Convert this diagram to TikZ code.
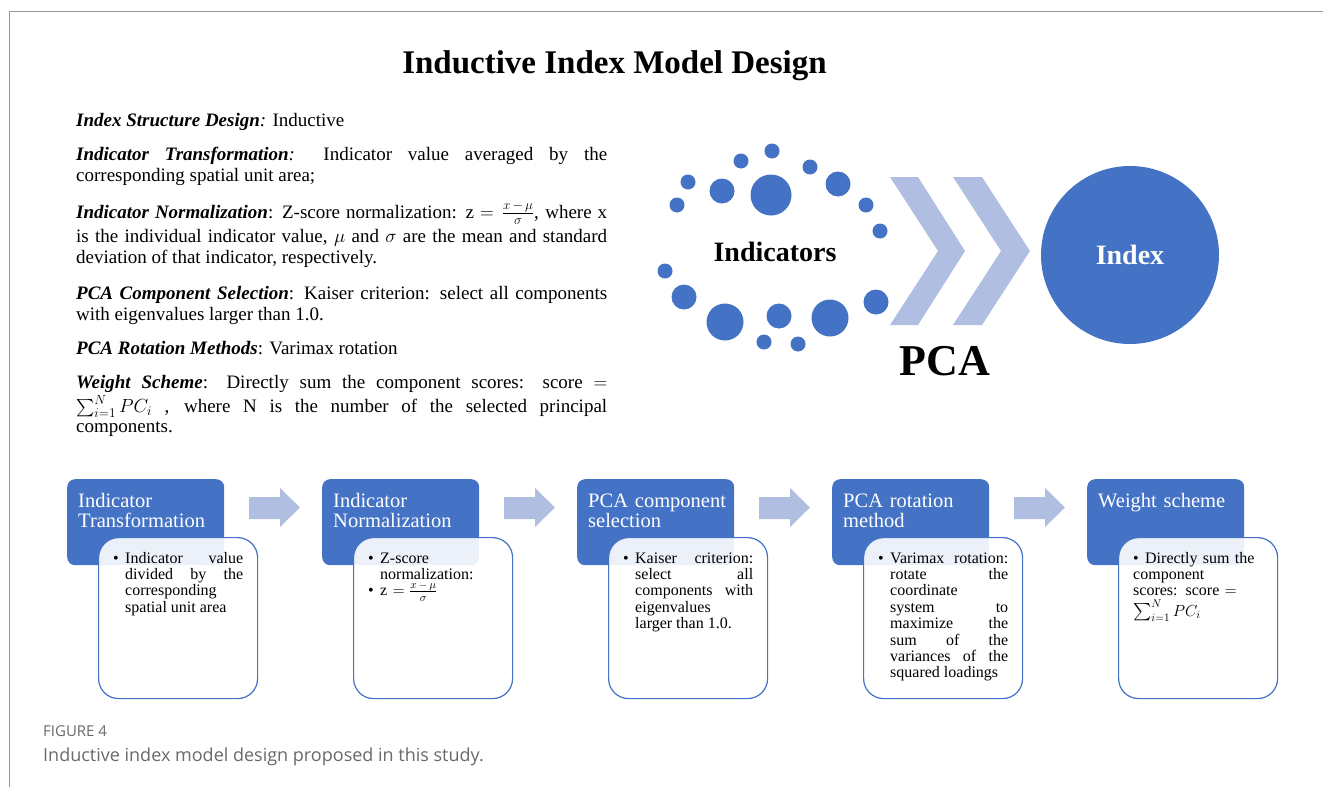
\RequirePackage{fix-cm}
\documentclass[tikz,border=0pt]{standalone}
\usepackage{exscale}
\usepackage{fontspec}
\setmainfont{Liberation Serif}
\newfontfamily\capfont{Open Sans}
\usetikzlibrary{positioning}
\definecolor{pcablue}{RGB}{68,114,196}
\definecolor{pcalight}{RGB}{176,190,225}
\definecolor{framegray}{RGB}{150,150,150}
\definecolor{capgray}{RGB}{105,105,105}
\newcommand{\boxitem}{\noindent\hangindent=12pt\hangafter=1\makebox[12pt][l]{\textbullet}}

\begin{document}
\begin{tikzpicture}[x=1pt, y=-1pt,
  titletext/.style={anchor=base, inner sep=0, font=\bfseries\fontsize{33}{33}\selectfont},
  para/.style={anchor=base west, inner sep=0, text width=531pt, align=justify, font=\fontsize{19}{21}\selectfont},
  headbox/.style={anchor=north west, fill=pcablue, rounded corners=8pt, minimum width=157pt, minimum height=86pt, inner sep=0},
  bodybox/.style={anchor=north west, draw=pcablue, line width=1.2pt, fill=white, fill opacity=0.9, rounded corners=20pt, minimum width=159pt, minimum height=161pt, inner sep=0},
  headtext/.style={anchor=base west, inner sep=0, text width=145pt, align=left, text=white, font=\fontsize{20.5}{20.5}\selectfont},
  bodytext/.style={anchor=base west, inner sep=0, text width=130pt, align=justify, font=\fontsize{16}{16.4}\selectfont,
    execute at begin node={\tolerance=10000\hbadness=10000\hyphenpenalty=10000}},
  raggedtext/.style={bodytext, align=left},
  blockarrow/.style={fill=pcalight},
  bigword/.style={anchor=base, inner sep=0, font=\bfseries\fontsize{28}{28}\selectfont}]

\useasboundingbox (0,0) rectangle (1323,787);

% frame
\draw[framegray, line width=1pt] (9.5,787) -- (9.5,11.5) -- (1323,11.5);

% title
\node[titletext] (title) at (614.5,73) {Inductive Index Model Design};

% design notes
{
\node[para] (notestruct) at (76,126) {\textbf{\textit{Index Structure Design}}\textit{:} Inductive};

\node[para] (notetrans) at (76,160) {\textbf{\textit{Indicator Transformation}}\textit{:} Indicator value averaged by the\linebreak corresponding spatial unit area;};

\node[para] (notenorm) at (76,218) {\textbf{\textit{Indicator Normalization}}: Z-score normalization: z $=\frac{x\,-\,\mu}{\sigma}$, where x\vadjust{\vskip 3pt}\linebreak is the individual indicator value, $\mu$ and $\sigma$ are the mean and standard\linebreak deviation of that indicator, respectively.};

\node[para] (notesel) at (76,299) {\textbf{\textit{PCA Component Selection}}: Kaiser criterion: select all components\linebreak with eigenvalues larger than 1.0.};

\node[para] (noterot) at (76,354) {\textbf{\textit{PCA Rotation Methods}}: Varimax rotation};

\node[para] (noteweight) at (76,388) {\textbf{\textit{Weight Scheme}}: Directly sum the component scores: score $=$\vadjust{\vskip 2pt}\linebreak $\sum_{i=1}^{N} PC_i$ , where N is the number of the selected principal\vadjust{\vskip -1pt}\linebreak components.};
}

% indicators to index
{
\fill[pcablue] (772,151) circle (7.5);
\fill[pcablue] (741,161) circle (7.5);
\fill[pcablue] (810,167) circle (7.5);
\fill[pcablue] (688,182) circle (7.5);
\fill[pcablue] (722,191) circle (12.5);
\fill[pcablue] (771,195) circle (20.5);
\fill[pcablue] (838,184) circle (12.5);
\fill[pcablue] (677,205) circle (7.5);
\fill[pcablue] (866,205) circle (7.5);
\fill[pcablue] (880,231) circle (7.5);
\fill[pcablue] (665,271) circle (7.5);
\fill[pcablue] (684,297) circle (12.5);
\fill[pcablue] (725,322) circle (18.5);
\fill[pcablue] (779,316) circle (12.5);
\fill[pcablue] (830,318) circle (18.5);
\fill[pcablue] (876,302) circle (12.5);
\fill[pcablue] (764,342) circle (7.5);
\fill[pcablue] (798,344) circle (7.5);

\fill[pcalight] (890,177)--++(28,0)--++(47,74)--++(-47,74)--++(-28,0)--++(48,-74)--cycle;
\fill[pcalight] (953,177)--++(29,0)--++(48,74)--++(-48,74)--++(-29,0)--++(48,-74)--cycle;

\node[circle, fill=pcablue, minimum size=178pt, inner sep=0, text=white, font=\bfseries\fontsize{28}{28}\selectfont] (index) at (1130,255) {Index};
\node[bigword] (indicators) at (775,261) {Indicators};
\node[bigword, font=\bfseries\fontsize{44}{44}\selectfont] (pca) at (945,375) {PCA};
}

% process steps
\begin{scope}[xshift=0pt]
\node[headbox] (transhead) at (67,479) {};
\node[bodybox] (transbox) at (98,537) {};
\node[headtext] (transtitle) at (78,507) {Indicator\\Transformation};
\node[bodytext] (transtext) at (113,563) {\boxitem Indicator~value\linebreak divided~by~the\linebreak corresponding\linebreak spatial unit area\par};
\fill[blockarrow] (249,497)--++(31,0)--++(0,-9)--++(20,19.5)--++(-20,19.5)--++(0,-8)--++(-31,0)--cycle;
\end{scope}

\begin{scope}[xshift=255pt]
\node[headbox] (normhead) at (67,479) {};
\node[bodybox] (normbox) at (98,537) {};
\node[headtext] (normtitle) at (78,507) {Indicator\\Normalization};
\node[raggedtext] (normtext) at (113,563) {\boxitem Z-score normalization:\par\boxitem z $=\frac{x\,-\,\mu}{\sigma}$\par};
\fill[blockarrow] (249,497)--++(31,0)--++(0,-9)--++(20,19.5)--++(-20,19.5)--++(0,-8)--++(-31,0)--cycle;
\end{scope}

\begin{scope}[xshift=510pt]
\node[headbox] (selhead) at (67,479) {};
\node[bodybox] (selbox) at (98,537) {};
\node[headtext] (seltitle) at (78,507) {PCA component\\selection};
\node[bodytext] (seltext) at (113,563) {\boxitem Kaiser~criterion:\linebreak select~all\linebreak components~with\linebreak eigenvalues\linebreak larger than 1.0.\par};
\fill[blockarrow] (249,497)--++(31,0)--++(0,-9)--++(20,19.5)--++(-20,19.5)--++(0,-8)--++(-31,0)--cycle;
\end{scope}

\begin{scope}[xshift=765pt]
\node[headbox] (rothead) at (67,479) {};
\node[bodybox] (rotbox) at (98,537) {};
\node[headtext] (rottitle) at (78,507) {PCA rotation\\method};
\node[bodytext] (rottext) at (113,563) {\boxitem Varimax~rotation:\linebreak rotate~the\linebreak coordinate\linebreak system~to\linebreak maximize~the\linebreak sum~of~the\linebreak variances~of~the\linebreak squared loadings\par};
\fill[blockarrow] (249,497)--++(31,0)--++(0,-9)--++(20,19.5)--++(-20,19.5)--++(0,-8)--++(-31,0)--cycle;
\end{scope}

\begin{scope}[xshift=1020pt]
\node[headbox] (weighthead) at (67,479) {};
\node[bodybox] (weightbox) at (98,537) {};
\node[headtext] (weighttitle) at (78,507) {Weight scheme};
\node[raggedtext] (weighttext) at (113,563) {\boxitem Directly sum the\\ component\\ scores: score $=$\\[4pt] $\sum_{i=1}^{N} PC_i$\par};
\end{scope}

% caption
\node[anchor=base west, inner sep=0, text=capgray, font=\capfont\fontsize{15}{15}\selectfont] (fignum) at (43,736) {FIGURE 4};
\node[anchor=base west, inner sep=0, text=capgray, font=\capfont\fontsize{18}{18}\selectfont] (figcap) at (43,761) {Inductive index model design proposed in this study.};
\end{tikzpicture}
\end{document}
